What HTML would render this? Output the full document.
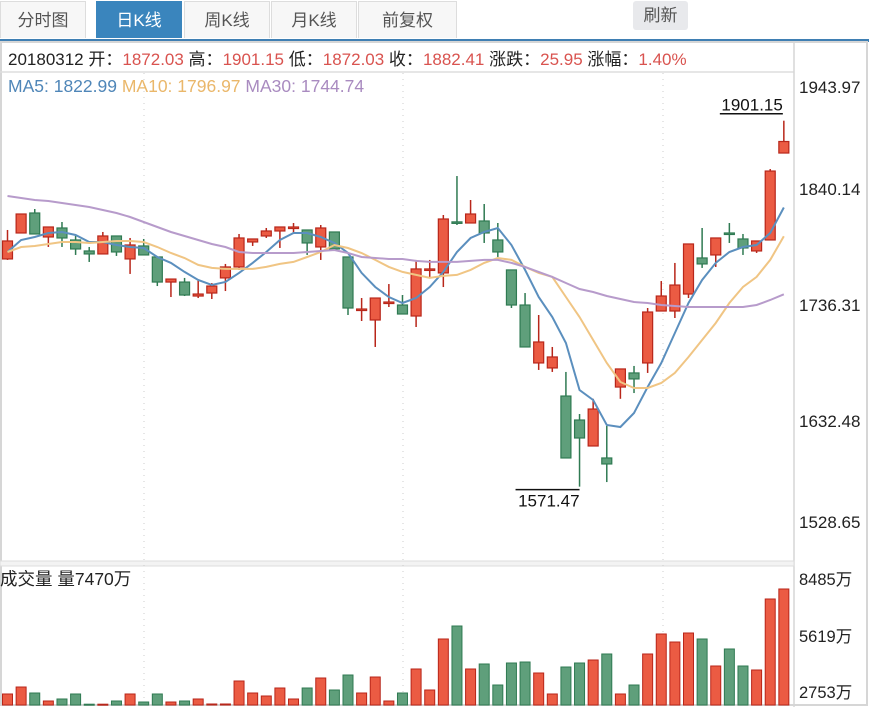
<!DOCTYPE html>
<html><head><meta charset="utf-8"><style>
body{margin:0;width:869px;height:707px;overflow:hidden;background:#fff;font-family:"Liberation Sans","Noto Sans CJK SC",sans-serif;position:relative}
.tab{position:absolute;top:1px;height:37px;width:86px;border:1px solid #ddd;border-bottom:none;background:#f7f7f7;color:#555;font-size:17px;line-height:37px;text-align:center;box-sizing:border-box}
.tab.on{background:#3a85bd;color:#fff;border-color:#3a85bd}
#refresh{position:absolute;left:633px;top:1px;width:55px;height:29px;background:#e8e9ec;border-radius:3px;color:#555;font-size:17px;line-height:29px;text-align:center}
#blue{position:absolute;left:0;top:39px;width:869px;height:3px;background:#3f7fb3}
#info{position:absolute;left:8px;top:45px;font-size:17px;color:#222;white-space:nowrap}
#info .r,.r{color:#d9534f}
#malabel{position:absolute;left:8px;top:76px;font-size:17.5px;white-space:nowrap}
svg{position:absolute;left:0;top:0}
</style></head><body>
<div class="tab" style="left:0">分时图</div>
<div class="tab on" style="left:96px">日K线</div>
<div class="tab" style="left:184px">周K线</div>
<div class="tab" style="left:271px">月K线</div>
<div class="tab" style="left:358px;width:99px">前复权</div>
<div id="refresh">刷新</div>
<div id="blue"></div>
<svg id="chart" width="869" height="707"></svg>
<div id="info">20180312 开：<span class="r">1872.03</span> 高：<span class="r">1901.15</span> 低：<span class="r">1872.03</span> 收：<span class="r">1882.41</span> 涨跌：<span class="r">25.95</span> 涨幅：<span class="r">1.40%</span></div>
<div id="malabel"><span style="color:#4f86b8">MA5: 1822.99</span> <span style="color:#eab76a">MA10: 1796.97</span> <span style="color:#a98bc0">MA30: 1744.74</span></div>
<script>
const opens=[1776.6,1800.0,1818.0,1796.4,1804.5,1793.7,1783.8,1781.1,1797.3,1776.6,1788.3,1778.4,1755.8,1755.8,1743.2,1745.9,1759.5,1769.4,1791.9,1797.3,1801.8,1804.0,1802.7,1787.4,1800.9,1778.4,1730.6,1721.6,1736.9,1735.1,1725.2,1766.7,1764.0,1810.0,1809.0,1810.8,1793.7,1766.7,1735.1,1682.9,1678.4,1653.1,1631.5,1608.1,1597.3,1661.2,1673.9,1682.9,1729.7,1729.7,1745.0,1777.5,1780.2,1800.0,1794.6,1783.8,1793.7,1872.03];
const highs=[1802.7,1817.1,1821.6,1805.4,1809.9,1797.3,1787.4,1800.9,1797.3,1795.5,1794.6,1778.4,1758.5,1759.5,1757.6,1754.9,1772.1,1799.1,1794.6,1804.5,1805.4,1809.0,1802.7,1807.2,1800.9,1778.4,1741.4,1741.4,1754.0,1744.1,1775.7,1775.7,1816.2,1851.3,1829.7,1826.1,1809.0,1766.7,1745.9,1726.1,1697.3,1674.8,1636.9,1650.6,1626.1,1677.5,1680.2,1732.4,1756.7,1773.0,1790.1,1804.5,1795.5,1809.0,1799.1,1792.8,1857.6,1901.15];
const lows=[1775.7,1800.0,1799.1,1787.4,1787.4,1780.2,1773.9,1781.1,1779.3,1763.1,1780.2,1752.2,1742.3,1743.2,1741.4,1740.5,1747.7,1766.7,1788.3,1795.5,1786.5,1800.0,1780.2,1775.7,1785.6,1726.1,1720.7,1697.3,1733.3,1727.0,1715.3,1760.4,1751.3,1807.2,1809.0,1791.0,1778.4,1732.4,1697.3,1676.6,1674.8,1597.3,1571.47,1608.1,1575.6,1650.6,1655.8,1673.9,1729.7,1723.4,1741.4,1768.5,1769.4,1791.0,1780.2,1782.0,1793.7,1872.03];
const closes=[1792.8,1817.1,1799.1,1805.4,1795.5,1785.6,1781.1,1797.3,1782.9,1789.2,1780.2,1755.8,1758.5,1744.1,1745.0,1752.2,1769.4,1795.5,1794.6,1801.8,1805.4,1805.4,1791.0,1804.5,1785.6,1732.4,1731.5,1741.4,1737.8,1727.0,1767.6,1767.6,1812.6,1809.0,1817.1,1800.0,1782.9,1735.1,1697.3,1701.8,1688.3,1597.3,1615.3,1641.4,1591.9,1677.5,1668.5,1728.8,1743.2,1753.1,1790.1,1772.1,1795.5,1799.5,1786.5,1792.8,1855.8,1882.41];
const ma5=[1782.9,1793.7,1796.4,1800.0,1800.9,1798.2,1791.9,1791.9,1789.2,1787.4,1786.5,1778.4,1773.0,1764.9,1757.6,1753.1,1755.8,1764.0,1773.0,1782.9,1793.7,1800.0,1800.0,1796.4,1791.0,1782.0,1764.0,1751.3,1742.3,1736.9,1741.4,1751.3,1764.9,1782.9,1795.5,1800.9,1804.5,1789.2,1766.7,1742.3,1724.3,1700.9,1658.5,1649.5,1627.0,1625.2,1637.8,1661.2,1682.9,1709.9,1736.9,1757.6,1773.0,1782.9,1787.4,1789.2,1800.0,1822.99];
const ma10=[1782.9,1787.4,1788.3,1790.1,1791.9,1791.9,1791.0,1791.9,1792.8,1792.8,1791.9,1787.4,1782.0,1777.5,1771.2,1768.5,1767.6,1767.6,1767.6,1769.4,1772.1,1773.9,1778.4,1782.9,1789.2,1786.5,1782.0,1775.7,1769.4,1764.9,1762.2,1759.5,1761.3,1762.2,1766.7,1773.0,1777.5,1775.7,1769.4,1764.0,1760.4,1742.3,1724.3,1703.6,1682.9,1665.7,1660.3,1660.3,1664.8,1673.9,1688.3,1703.6,1718.9,1736.9,1751.3,1760.4,1775.7,1796.97];
const ma30=[1833.3,1831.5,1829.7,1828.8,1827.0,1825.2,1823.4,1820.7,1818.0,1814.4,1809.9,1805.4,1800.9,1797.3,1793.7,1790.1,1787.4,1782.9,1782.0,1782.0,1782.0,1782.0,1782.9,1783.8,1784.7,1782.0,1778.4,1777.5,1776.6,1776.6,1774.8,1773.9,1773.9,1773.9,1774.8,1775.7,1775.7,1773.0,1769.4,1764.9,1760.4,1754.9,1749.5,1746.8,1743.2,1740.5,1737.8,1736.9,1735.1,1734.2,1733.3,1733.3,1733.3,1733.3,1733.3,1735.1,1739.6,1744.74];
const volumes=[2704,3049,2753,2358,2457,2704,2200,2200,2358,2704,2308,2704,2308,2358,2457,2210,2210,3346,2753,2605,3000,2457,3000,3494,2901,3642,2753,3543,2358,2753,3939,2901,5421,6063,3939,4186,3148,4235,4284,3741,2704,4037,4235,4383,4680,2704,3148,4680,5668,5272,5717,5421,4087,4927,4087,3889,7397,7891];
const priceTicks=[1943.97,1840.14,1736.31,1632.48,1528.65];
const priceTickY=[87,189,305,421,522];
const volTicks=["8485万","5619万","2753万"];
const volTickY=[579,636,692];

const NS="http://www.w3.org/2000/svg";
const svg=document.getElementById('chart');
function mk(tag,attrs,parent){const e=document.createElementNS(NS,tag);for(const k in attrs)e.setAttribute(k,attrs[k]);(parent||svg).appendChild(e);return e;}
const xOf=i=>7.5+13.62*i;
const yP=v=>120.7+(1901.15-v)*1.11;
const yV=v=>693-(v-2753)/49.4;

let f;
f=mk('rect',{x:1,y:42,width:866,height:663,fill:'none',stroke:'#d6d6d6','stroke-width':2});

f=mk('line',{x1:0,y1:72,x2:794,y2:72,stroke:'#ddd','stroke-width':1.5});

f=mk('line',{x1:794,y1:42,x2:794,y2:707,stroke:'#d6d6d6','stroke-width':1.5});

f=mk('rect',{x:0,y:561,width:794,height:5,fill:'#f3f3f3',stroke:'#ddd'});

[144,403,663].forEach(x=>{const g=mk('line',{x1:x,y1:73,x2:x,y2:705,stroke:'#ccc','stroke-dasharray':'1 5'});
});

priceTicks.forEach((t,i)=>{const e=mk('text',{x:799,y:priceTickY[i]+6,'font-size':17,fill:'#222'});e.textContent=t.toFixed(2);
});
volTicks.forEach((t,i)=>{const e=mk('text',{x:799,y:volTickY[i]+6,'font-size':16.5,fill:'#222'});e.textContent=t;
});
let vl=mk('text',{x:0,y:585,'font-size':17.5,fill:'#222'});vl.textContent='成交量 量7470万';


const RED='#eb5b43',REDB='#b8261a',GRN='#5f9f7b',GRNB='#2f7a52';
opens.forEach((o,i)=>{
 const c=closes[i],up=c>=o,x=xOf(i);
 const g=mk('g',{});
 
 mk('line',{x1:x,y1:yP(highs[i]),x2:x,y2:yP(lows[i]),stroke:up?REDB:GRNB,'stroke-width':1.5},g);
 const t=yP(Math.max(o,c)),b=yP(Math.min(o,c));
 mk('rect',{x:x-5,y:t,width:10,height:Math.max(b-t,1.5),fill:up?RED:GRN,stroke:up?REDB:GRNB,'stroke-width':1.2},g);
 const vt=yV(volumes[i]);
 const vb=mk('rect',{x:x-5,y:vt,width:10,height:Math.max(705-vt,1),fill:up?RED:GRN,stroke:up?REDB:GRNB,'stroke-width':1});
 
});
[[ma5,'#5b8fbe','ma5-line'],[ma10,'#f0c584','ma10-line'],[ma30,'#b79bcb','ma30-line']].forEach(([arr,col,nm])=>{
 const p=mk('polyline',{points:arr.map((v,i)=>xOf(i)+','+yP(v).toFixed(1)).join(' '),fill:'none',stroke:col,'stroke-width':2});
 
});
const hi=Math.max(...highs),hiI=highs.indexOf(hi),lo=Math.min(...lows),loI=lows.indexOf(lo);
let ht=mk('text',{x:xOf(hiI)-1,y:yP(hi)-10,'font-size':17,fill:'#111','text-anchor':'end'});ht.textContent=hi.toFixed(2);

let hl=mk('line',{x1:xOf(hiI)-64,y1:yP(hi)-7,x2:xOf(hiI)-1,y2:yP(hi)-7,stroke:'#111','stroke-width':1.5});

let lt=mk('text',{x:xOf(loI),y:yP(lo)+20,'font-size':17,fill:'#111','text-anchor':'end'});lt.textContent=lo.toFixed(2);

let ll=mk('line',{x1:xOf(loI)-64,y1:yP(lo)+3,x2:xOf(loI),y2:yP(lo)+3,stroke:'#111','stroke-width':1.5});

</script>
</body></html>
